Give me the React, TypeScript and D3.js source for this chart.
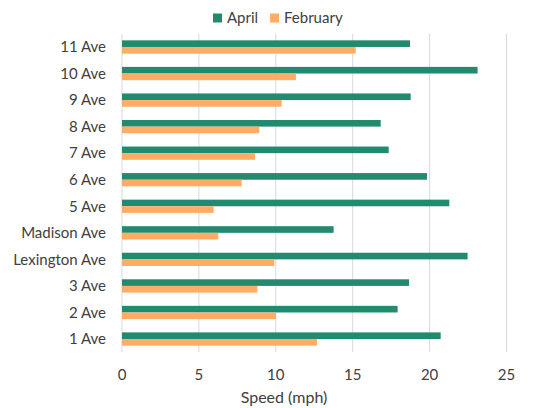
import React from "react";
import * as d3 from "d3";

const categories = ["11 Ave", "10 Ave", "9 Ave", "8 Ave", "7 Ave", "6 Ave", "5 Ave", "Madison Ave", "Lexington Ave", "3 Ave", "2 Ave", "1 Ave"];
const april = [18.73, 23.12, 18.77, 16.82, 17.34, 19.83, 21.28, 13.76, 22.47, 18.66, 17.92, 20.72];
const february = [15.2, 11.31, 10.38, 8.93, 8.65, 7.78, 5.96, 6.26, 9.9, 8.8, 10.01, 12.68];
const xTicks = [0, 5, 10, 15, 20, 25];
const seriesNames = ["April", "February"];
const colors = ["#228B6F", "#FFAD66"];

const W = 534, H = 408;
const left = 122, right = 506.5, top = 33.7, bottom = 352.3;
const font = "Lato, 'Noto Sans', sans-serif";

export default function App() {
  const x = d3.scaleLinear().domain([0, 25]).range([left, right]);
  const y = d3.scaleBand().domain(categories).range([top, bottom]).paddingInner(0.5).paddingOuter(0.25);
  const inner = d3.scaleBand().domain(seriesNames).range([0, y.bandwidth()]);
  const series = [april, february];
  return (
    <div style={{ position: "fixed", left: 0, top: 0 }}>
      <svg width={W} height={H} style={{ display: "block", background: "#fff" }} fontFamily={font}>
        {xTicks.map((t) => (
          <line key={t} x1={x(t)} x2={x(t)} y1={top} y2={bottom} stroke="#d9d9d9" strokeWidth={1} />
        ))}
        {categories.map((c, i) =>
          series.map((s, j) => (
            <rect key={c + j} x={x(0)} y={(y(c) as number) + (inner(seriesNames[j]) as number)} width={x(s[i]) - x(0)} height={inner.bandwidth()} fill={colors[j]} />
          ))
        )}
        {categories.map((c) => (
          <text key={c} x={106} y={(y(c) as number) + y.bandwidth() / 2} dy="0.35em" textAnchor="end" fontSize={15} fill="#404040">{c}</text>
        ))}
        {xTicks.map((t) => (
          <text key={t} x={x(t)} y={375} dy="0.35em" textAnchor="middle" fontSize={15} fill="#404040">{t}</text>
        ))}
        <text x={284} y={397.5} dy="0.35em" textAnchor="middle" fontSize={16} fill="#404040">Speed (mph)</text>
        {seriesNames.map((n, j) => {
          const lx = [213, 270][j];
          return (
            <g key={n}>
              <rect x={lx} y={13.5} width={9} height={9} fill={colors[j]} />
              <text x={lx + 14} y={18} dy="0.35em" fontSize={15} fill="#404040">{n}</text>
            </g>
          );
        })}
      </svg>
    </div>
  );
}
